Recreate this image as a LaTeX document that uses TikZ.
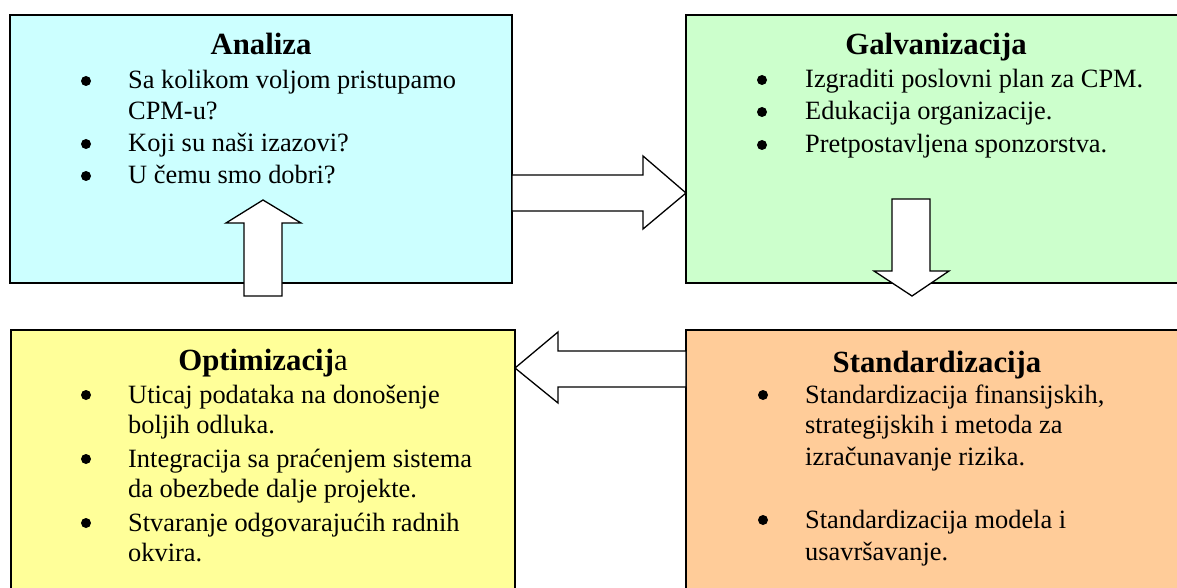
\documentclass[tikz,border=0pt]{standalone}
\usepackage{fontspec}
\setmainfont{Liberation Serif}
\definecolor{cyanbox}{HTML}{CCFFFF}
\definecolor{greenbox}{HTML}{CCFFCC}
\definecolor{yellowbox}{HTML}{FFFF99}
\definecolor{orangebox}{HTML}{FFCC99}
\tikzset{
  box/.style={draw=black, line width=1.5pt, inner sep=0pt, outer sep=0pt, anchor=north west},
  blockarrow/.style={draw=black, fill=white, line width=1.3pt, line join=miter},
  ttl/.style={font=\fontsize{30.8}{36}\selectfont\bfseries, anchor=base, inner sep=0pt},
  itemtext/.style={font=\fontsize{26.4}{31}\selectfont, anchor=base west, inner sep=0pt},
  bul/.style={circle, fill=black, minimum size=10pt, inner sep=0pt, yshift=8pt},
}
\begin{document}
\begin{tikzpicture}[x=1pt,y=-1pt]
\clip (0,0) rectangle (1177,588);
\fill[white] (0,0) rectangle (1177,588);

% boxes
\node[box, fill=cyanbox, minimum width=502pt, minimum height=268pt] (analiza) at (10,15) {};
\node[box, fill=greenbox, minimum width=500pt, minimum height=268pt] (galv) at (686,15) {};
\node[box, fill=yellowbox, minimum width=504pt, minimum height=300pt] (opt) at (11,330) {};
\node[box, fill=orangebox, minimum width=500pt, minimum height=300pt] (stand) at (686,330) {};

% Analiza text
\node[ttl] (t1) at (261,55) {Analiza};
\node[bul] (b11) at (86,89) {};
\node[itemtext] (l11) at (128,89) {Sa kolikom voljom pristupamo};
\node[itemtext] (l12) at (128,120) {CPM-u?};
\node[bul] (b12) at (86,152) {};
\node[itemtext] (l13) at (128,152) {Koji su naši izazovi?};
\node[bul] (b13) at (86,184) {};
\node[itemtext] (l14) at (128,184) {U čemu smo dobri?};

% Galvanizacija text
\node[ttl] (t2) at (936,55) {Galvanizacija};
\node[bul] (b21) at (762,88) {};
\node[itemtext] (l21) at (805,88) {Izgraditi poslovni plan za CPM.};
\node[bul] (b22) at (762,120) {};
\node[itemtext] (l22) at (805,120) {Edukacija organizacije.};
\node[bul] (b23) at (762,153) {};
\node[itemtext] (l23) at (805,153) {Pretpostavljena sponzorstva.};

% Optimizacija text
\node[ttl] (t3) at (263,370) {Optimizacij\mdseries a};
\node[bul] (b31) at (86,403) {};
\node[itemtext] (l31) at (128,403) {Uticaj podataka na donošenje};
\node[itemtext] (l32) at (128,433) {boljih odluka.};
\node[bul] (b32) at (86,467) {};
\node[itemtext] (l33) at (128,467) {Integracija sa praćenjem sistema};
\node[itemtext] (l34) at (128,497) {da obezbede dalje projekte.};
\node[bul] (b33) at (86,531) {};
\node[itemtext] (l35) at (128,531) {Stvaranje odgovarajućih radnih};
\node[itemtext] (l36) at (128,561) {okvira.};

% Standardizacija text
\node[ttl] (t4) at (937,372) {Standardizacija};
\node[bul] (b41) at (763,403) {};
\node[itemtext] (l41) at (805,403) {Standardizacija finansijskih,};
\node[itemtext] (l42) at (805,433) {strategijskih i metoda za};
\node[itemtext] (l43) at (805,465) {izračunavanje rizika.};
\node[bul] (b42) at (763,528) {};
\node[itemtext] (l44) at (805,528) {Standardizacija modela i};
\node[itemtext] (l45) at (805,560) {usavršavanje.};

% block arrows
% Analiza -> Galvanizacija
\draw[blockarrow] (analiza.east |- 0,175) -- (643,175) -- (643,156) -- (galv.west |- 0,193) -- (643,229) -- (643,211) -- (analiza.east |- 0,211) -- cycle;
% Galvanizacija -> Standardizacija
\draw[blockarrow] (892,199) -- (930,199) -- (930,271) -- (949,271) -- (912,296) -- (874,271) -- (892,271) -- cycle;
% Standardizacija -> Optimizacija
\draw[blockarrow] (stand.west |- 0,351) -- (558,351) -- (558,332) -- (opt.east |- 0,368) -- (558,403) -- (558,387) -- (stand.west |- 0,387) -- cycle;
% Optimizacija -> Analiza
\draw[blockarrow] (244,296) -- (244,223) -- (226,223) -- (263,200) -- (301,223) -- (282,223) -- (282,296) -- cycle;
\end{tikzpicture}
\end{document}
